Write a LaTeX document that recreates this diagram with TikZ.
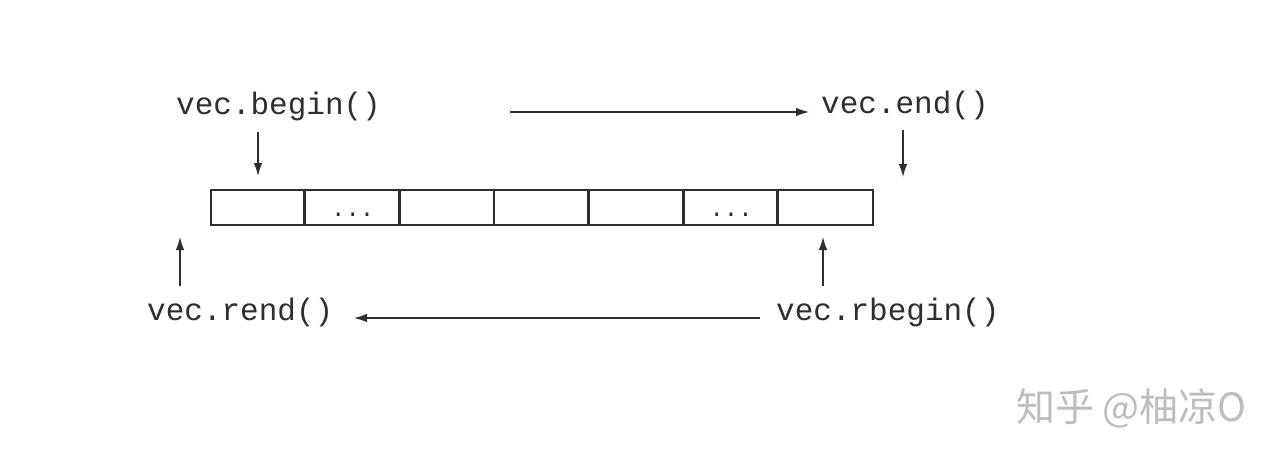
\documentclass[tikz,border=0pt]{standalone}
\usepackage{fontspec}
\setmonofont{Liberation Mono}
\newfontfamily\cjk{Noto Sans CJK SC}
\usetikzlibrary{arrows.meta}
\definecolor{ink}{HTML}{2E2E2E}
\definecolor{wm}{HTML}{BDBDBD}
\begin{document}
\begin{tikzpicture}[x=1pt,y=-1pt,
  lbl/.style={inner sep=0pt,anchor=base west,font=\fontsize{31}{31}\selectfont\ttfamily,text=ink},
  ptr/.style={draw=ink,line width=1.3pt,-{Latex[length=13pt,width=8.5pt]}},
  cellbox/.style={draw=ink,line width=1.6pt,minimum width=94.6pt,minimum height=35pt,inner sep=0pt,anchor=west},
  dotsl/.style={inner sep=0pt,font=\fontsize{24}{24}\selectfont\ttfamily,text=ink}]
\useasboundingbox[fill=white] (0,0) rectangle (1279,459);
% cells
\foreach \i in {1,2,3,4,5,6,7} {
  \node[cellbox] (c\i) at ({210+(\i-1)*94.6},207.5) {};
}
\node[dotsl] (d2) at ([yshift=-7pt]c2.center) {...};
\node[dotsl] (d6) at ([yshift=-7pt]c6.center) {...};
\foreach \i in {2,3,4,5,6,7} { \draw[ink,line width=2.6pt] (c\i.north west) -- (c\i.south west); }
% labels
\node[lbl] (vb) at (176,114) {vec.begin()};
\node[lbl] (ve) at (821,113) {vec.end()};
\node[lbl] (vre) at (147,320) {vec.rend()};
\node[lbl] (vrb) at (776,320) {vec.rbegin()};
% coordinates for arrows
\coordinate (b1) at (258,132); \coordinate (b2) at (258,176);
\coordinate (e1) at (903,130); \coordinate (e2) at (903,177);
\coordinate (t1) at (510,112); \coordinate (t2) at (809,112);
\coordinate (r1) at (180,286); \coordinate (r2) at (180,237);
\coordinate (rb1) at (823,286); \coordinate (rb2) at (823,237);
\coordinate (h1) at (760,318); \coordinate (h2) at (354,318);
\draw[ptr] (b1) -- (b2);
\draw[ptr] (e1) -- (e2);
\draw[ptr] (t1) -- (t2);
\draw[ptr] (r1) -- (r2);
\draw[ptr] (rb1) -- (rb2);
\draw[ptr] (h1) -- (h2);
% watermark
\node[inner sep=0pt,anchor=west,text=wm,font=\fontsize{39}{39}\selectfont\cjk] (wmk) at (1016,408) {知乎 @柚凉O};
\end{tikzpicture}
\end{document}
